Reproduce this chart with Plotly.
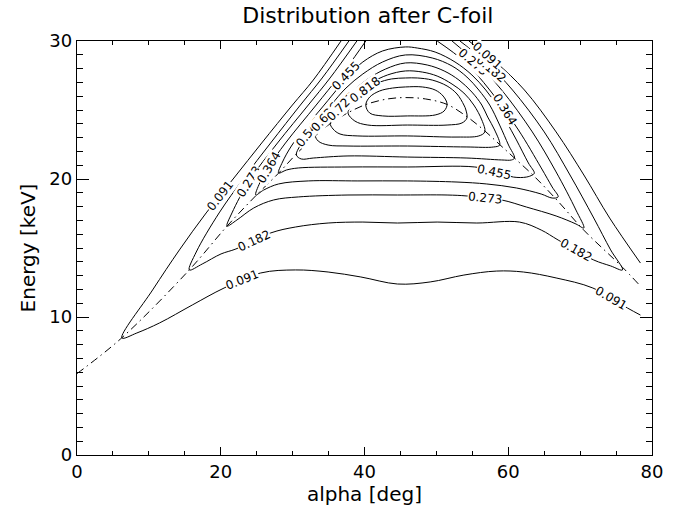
import plotly.graph_objects as go

# Contour levels of the distribution (fractions of the maximum)
levels = [0.091, 0.182, 0.273, 0.364, 0.455, 0.545, 0.636, 0.727, 0.818, 0.909]

# Traced iso-lines, (alpha [deg], energy [keV]) pairs
c091_a = [(36.73, 30.0), (32.87, 27.17), (29.97, 25.36), (25.70, 22.61), (21.83, 20.07), (17.97, 17.54),
          (14.25, 14.86), (10.52, 11.96), (6.25, 8.48), (8.32, 8.84), (11.49, 9.57), (16.04, 10.87),
          (20.46, 12.10), (25.56, 13.19), (30.39, 13.41), (34.94, 13.26), (39.49, 12.90), (44.59, 12.39),
          (49.14, 12.54), (53.83, 13.04), (58.39, 13.33), (62.11, 13.26), (66.66, 12.83), (71.77, 12.10),
          (76.59, 10.65), (78.39, 10.14)]
c091_b = [(54.52, 30.0), (58.39, 28.41), (62.25, 26.45), (66.66, 23.41), (70.52, 20.29), (74.11, 17.17),
          (78.39, 13.91)]
c182 = [(37.83, 30.0), (34.11, 27.32), (31.08, 25.36), (26.94, 22.61), (23.21, 20.07), (19.77, 17.54),
        (16.59, 14.71), (15.63, 13.41), (17.42, 13.84), (20.04, 14.57), (22.11, 14.93), (26.94, 16.09),
        (30.39, 16.52), (34.94, 16.81), (39.77, 16.88), (44.59, 16.81), (50.11, 16.88), (55.63, 16.81),
        (61.56, 16.88), (64.59, 16.30), (66.94, 15.58), (71.90, 14.13), (74.25, 13.70), (75.90, 13.41),
        (74.25, 14.86), (71.90, 17.17), (68.59, 20.29), (65.01, 23.41), (60.59, 26.45), (57.01, 28.41),
        (53.28, 30.0)]
c273 = [(38.94, 30.0), (35.21, 27.32), (32.18, 25.36), (27.90, 22.61), (24.04, 19.93), (21.56, 17.54),
        (20.87, 16.59), (22.25, 17.03), (24.59, 17.90), (27.35, 18.48), (30.80, 18.70), (37.70, 18.84),
        (44.59, 18.84), (51.49, 18.84), (54.25, 18.77), (59.08, 18.48), (62.52, 17.97), (66.66, 17.32),
        (69.42, 16.74), (70.52, 16.45), (69.42, 17.75), (66.66, 20.51), (63.35, 23.41), (59.08, 26.45),
        (55.63, 28.41), (52.18, 30.0)]
c364 = [(40.18, 30.0), (37.70, 28.19), (36.32, 27.32), (33.28, 25.36), (29.01, 22.61), (26.66, 20.87),
        (25.42, 19.71), (24.87, 18.84), (25.97, 19.20), (28.04, 19.64), (32.18, 19.86), (39.08, 19.86),
        (45.97, 19.86), (52.87, 19.78), (57.01, 19.64), (61.14, 19.35), (64.59, 18.91), (66.11, 18.62),
        (66.94, 18.70), (66.11, 19.42), (64.59, 20.80), (61.42, 23.55), (57.42, 26.45), (53.97, 28.48),
        (50.11, 30.0)]
c455 = [(28.04, 20.43), (28.59, 21.23), (29.83, 22.39), (31.49, 23.55), (34.39, 25.36), (36.32, 26.59),
        (37.70, 27.46), (39.77, 28.48), (42.52, 29.28), (45.70, 29.57), (47.35, 29.49), (49.83, 29.20),
        (52.59, 28.48), (54.94, 27.54), (56.87, 26.45), (58.39, 25.36), (59.77, 24.13), (61.14, 22.83),
        (62.80, 21.16), (63.63, 20.43), (63.35, 20.29), (62.52, 20.14), (60.73, 20.14), (58.39, 20.51),
        (55.35, 20.87), (45.97, 20.87), (37.70, 20.87), (30.80, 20.80), (29.14, 20.65)]
c545 = [(30.52, 21.74), (31.08, 22.46), (32.46, 23.55), (35.35, 25.36), (37.42, 26.59), (39.77, 27.61),
        (42.52, 28.48), (45.70, 28.99), (49.42, 28.77), (52.18, 28.19), (54.25, 27.39), (55.90, 26.45),
        (57.42, 25.36), (58.80, 23.91), (60.04, 22.46), (60.87, 21.52), (60.46, 21.38), (59.08, 21.38),
        (54.25, 21.52), (45.97, 21.59), (37.70, 21.67), (32.87, 21.52), (31.21, 21.45)]
c636 = [(33.14, 23.19), (33.70, 23.84), (34.52, 24.49), (36.32, 25.36), (38.39, 26.38), (40.46, 27.25),
        (42.94, 27.97), (45.70, 28.41), (48.73, 28.26), (51.08, 27.83), (53.14, 27.17), (54.94, 26.30),
        (56.32, 25.36), (57.14, 24.49), (58.11, 23.55), (58.80, 22.46), (57.97, 22.32), (54.25, 22.32),
        (45.97, 22.39), (37.70, 22.39), (34.94, 22.46), (33.56, 22.75)]
c727 = [(35.21, 24.06), (35.77, 24.64), (37.14, 25.36), (38.80, 26.23), (40.87, 26.96), (43.21, 27.54),
        (45.70, 27.83), (48.04, 27.75), (50.11, 27.46), (52.18, 26.88), (53.83, 26.23), (55.21, 25.36),
        (56.32, 24.28), (56.73, 23.41), (55.90, 23.12), (52.87, 23.04), (45.97, 23.12), (39.08, 23.12),
        (36.59, 23.26), (35.63, 23.62)]
c818 = [(37.70, 24.78), (38.11, 25.29), (38.80, 25.80), (40.04, 26.45), (41.83, 26.96), (43.77, 27.25),
        (45.70, 27.32), (47.35, 27.32), (49.42, 27.17), (51.49, 26.74), (52.87, 26.16), (53.83, 25.36),
        (54.11, 25.00), (54.25, 24.42), (53.56, 24.06), (51.49, 23.91), (45.97, 23.91), (40.46, 23.91),
        (38.66, 24.20)]
c909 = [(40.18, 25.36), (40.73, 25.94), (42.11, 26.38), (43.90, 26.59), (45.70, 26.67), (48.04, 26.67),
        (49.83, 26.45), (50.94, 26.01), (51.49, 25.43), (51.08, 24.93), (49.83, 24.64), (45.97, 24.57),
        (42.52, 24.57), (40.73, 24.78)]

open_lines = [c091_a, c091_b, c182, c273, c364]
closed_lines = [c455, c545, c636, c727, c818, c909]

# Ridge (energy of maximum vs. angle), drawn dash-dotted
ridge = [(0.0, 5.9), (6.25, 8.5), (15.6, 13.4), (20.9, 16.6), (24.9, 18.8), (28.0, 20.4), (30.5, 21.8),
         (33.1, 23.1), (35.2, 24.0), (37.7, 24.8), (40.2, 25.4), (43.2, 25.8), (45.7, 25.9), (48.5, 25.8),
         (51.5, 25.4), (54.3, 24.5), (56.7, 23.5), (58.8, 22.5), (60.9, 21.5), (63.6, 20.2), (66.9, 18.4),
         (70.5, 16.3), (75.9, 13.6), (78.1, 12.4)]

# Level labels: (level, alpha, energy, text angle)
labels = [
    (0.091, 22.94, 12.68, -22), (0.091, 74.25, 11.38, 30),
    (0.182, 24.59, 15.51, -25), (0.182, 69.42, 14.86, 29),
    (0.273, 56.73, 18.62, 6), (0.455, 57.97, 20.51, 12),
    (0.091, 19.90, 18.77, -52), (0.273, 23.90, 19.78, -58), (0.364, 26.66, 20.80, -60),
    (0.545, 32.30, 23.40, -52), (0.636, 34.52, 24.49, -48), (0.727, 36.73, 25.22, -45),
    (0.455, 37.42, 27.46, -46), (0.818, 40.04, 26.45, -37),
    (0.364, 59.49, 25.07, 58), (0.273, 55.10, 28.48, 40), (0.182, 57.60, 27.97, 40),
    (0.091, 57.10, 28.91, 42),
]

FONT = "DejaVu Sans"
fig = go.Figure()

line_style = dict(color="black", width=1.0, shape="spline", smoothing=1.0)
for pts in open_lines:
    fig.add_trace(go.Scatter(x=[p[0] for p in pts], y=[p[1] for p in pts], mode="lines",
                             line=line_style, hoverinfo="skip", showlegend=False))
for pts in closed_lines:
    loop = pts + [pts[0]]
    fig.add_trace(go.Scatter(x=[p[0] for p in loop], y=[p[1] for p in loop], mode="lines",
                             line=line_style, hoverinfo="skip", showlegend=False))

fig.add_trace(go.Scatter(x=[p[0] for p in ridge], y=[p[1] for p in ridge], mode="lines",
                         line=dict(color="black", width=1.0, dash="8px,4px,1.5px,4px",
                                   shape="spline", smoothing=1.0),
                         hoverinfo="skip", showlegend=False))

for lvl, a, e, ang in labels:
    fig.add_annotation(x=a, y=e, text=f"{lvl:.3f}", showarrow=False, textangle=ang,
                       font=dict(family=FONT, size=12, color="black"),
                       bgcolor="white", borderpad=0)

axis_common = dict(showline=True, linecolor="black", linewidth=1.3, mirror="allticks",
                   ticks="inside", tickcolor="black", showgrid=False, zeroline=False,
                   tickfont=dict(family=FONT, size=18, color="black"))

fig.update_xaxes(range=[0, 80], tickvals=[0, 20, 40, 60, 80], ticklen=8, tickwidth=1,
                 minor=dict(ticks="inside", dtick=5, ticklen=4, tickcolor="black", showgrid=False),
                 title=dict(text="alpha [deg]", font=dict(family=FONT, size=20, color="black"), standoff=6),
                 **axis_common)
fig.update_yaxes(range=[0, 30], tickvals=[0, 10, 20, 30], ticklen=12, tickwidth=1,
                 minor=dict(ticks="inside", dtick=1, ticklen=6, tickcolor="black", showgrid=False),
                 title=dict(text="Energy [keV]", font=dict(family=FONT, size=20, color="black"), standoff=8),
                 **axis_common)

fig.update_layout(
    width=675, height=516,
    margin=dict(l=77, r=18, t=41, b=61),
    paper_bgcolor="white", plot_bgcolor="white",
    title=dict(text="Distribution after C-foil", x=0.545, xanchor="center", y=0.985, yanchor="top",
               font=dict(family=FONT, size=22, color="black")),
)

fig.write_html("out.html")
